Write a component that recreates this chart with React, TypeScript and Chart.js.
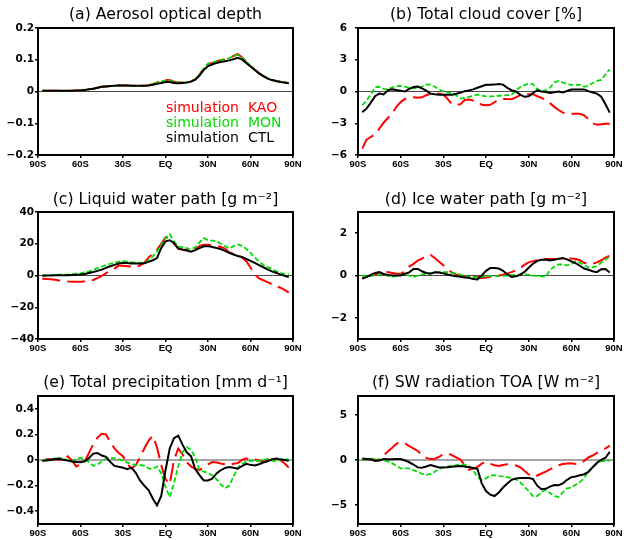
import { useEffect, useRef } from 'react';
import { Chart, registerables } from 'chart.js';

Chart.register(...registerables);

// Zonal-mean latitudes (degrees, south negative)
const LATITUDES = [
  -87, -84, -81, -78, -75, -72, -69, -66, -63, -60,
  -57, -54, -51, -48, -45, -42, -39, -36, -33, -30,
  -27, -24, -21, -18, -15, -12, -9, -6, -3, 0,
  3, 6, 9, 12, 15, 18, 21, 24, 27, 30,
  33, 36, 39, 42, 45, 48, 51, 54, 57, 60,
  63, 66, 69, 72, 75, 78, 81, 84, 87,
];

const X_TICK_VALUES = [-90, -60, -30, 0, 30, 60, 90];
const X_TICK_LABELS = ['90S', '60S', '30S', 'EQ', '30N', '60N', '90N'];

const SERIES_NAMES = ['simulation  KAO', 'simulation  MON', 'simulation  CTL'];
const SERIES_COLORS = ['#ff0000', '#00dd00', '#000000'];

// (a) Aerosol optical depth
const AOD_KAO = [
  0.002, 0.002, 0.002, 0.002, 0.002, 0.002, 0.002, 0.002, 0.003, 0.003,
  0.005, 0.007, 0.009, 0.012, 0.015, 0.016, 0.017, 0.018, 0.019, 0.019,
  0.019, 0.018, 0.018, 0.018, 0.018, 0.020, 0.023, 0.028, 0.033, 0.036,
  0.036, 0.031, 0.028, 0.028, 0.029, 0.032, 0.038, 0.053, 0.073, 0.087,
  0.090, 0.095, 0.099, 0.101, 0.105, 0.112, 0.118, 0.108, 0.094, 0.081,
  0.069, 0.058, 0.049, 0.042, 0.037, 0.033, 0.031, 0.028, 0.026,
];
const AOD_MON = [
  0.002, 0.002, 0.002, 0.002, 0.002, 0.002, 0.002, 0.002, 0.003, 0.003,
  0.005, 0.007, 0.009, 0.012, 0.015, 0.016, 0.017, 0.018, 0.019, 0.019,
  0.019, 0.018, 0.018, 0.018, 0.018, 0.020, 0.023, 0.028, 0.032, 0.035,
  0.035, 0.031, 0.028, 0.028, 0.029, 0.032, 0.038, 0.053, 0.073, 0.088,
  0.090, 0.095, 0.099, 0.101, 0.105, 0.111, 0.115, 0.107, 0.094, 0.081,
  0.069, 0.058, 0.049, 0.042, 0.037, 0.033, 0.031, 0.028, 0.026,
];
const AOD_CTL = [
  0.002, 0.002, 0.002, 0.002, 0.002, 0.002, 0.002, 0.002, 0.003, 0.003,
  0.005, 0.007, 0.009, 0.012, 0.015, 0.016, 0.017, 0.018, 0.019, 0.019,
  0.019, 0.018, 0.018, 0.018, 0.018, 0.019, 0.021, 0.024, 0.027, 0.030,
  0.030, 0.027, 0.026, 0.027, 0.028, 0.031, 0.037, 0.050, 0.068, 0.080,
  0.085, 0.090, 0.093, 0.095, 0.098, 0.102, 0.106, 0.101, 0.090, 0.079,
  0.068, 0.057, 0.048, 0.041, 0.036, 0.033, 0.030, 0.028, 0.026,
];

// (b) Total cloud cover [%]
const CLD_KAO = [
  -5.4, -4.55, -4.3, -4.05, -3.5, -2.95, -2.5, -2.1, -1.45, -1.0,
  -0.7, -0.57, -0.55, -0.6, -0.55, -0.35, -0.2, -0.15, -0.2, -0.3,
  -0.7, -1.2, -1.25, -1.2, -0.8, -0.75, -0.85, -0.95, -1.25, -1.3,
  -1.25, -1.0, -0.8, -0.7, -0.72, -0.73, -0.55, -0.35, -0.25, -0.25,
  -0.25, -0.45, -0.6, -0.8, -1.1, -1.45, -1.75, -2.0, -2.08, -2.1,
  -2.1, -2.1, -2.25, -2.6, -3.0, -3.15, -3.1, -3.05, -3.05,
];
const CLD_MON = [
  -1.3, -0.85, -0.3, 0.4, 0.45, 0.25, 0.2, 0.4, 0.5, 0.52,
  0.45, 0.35, 0.3, 0.35, 0.45, 0.68, 0.65, 0.45, 0.2, 0.0,
  -0.08, -0.2, -0.35, -0.65, -0.62, -0.5, -0.4, -0.3, -0.38, -0.47,
  -0.47, -0.45, -0.4, -0.38, -0.35, -0.3, 0.1, 0.4, 0.6, 0.75,
  0.7, 0.25, 0.0, 0.1, 0.35, 0.85, 1.0, 0.85, 0.7, 0.63,
  0.63, 0.63, 0.45, 0.55, 0.8, 1.0, 1.1, 1.6, 2.1,
];
const CLD_CTL = [
  -1.95, -1.62, -1.05, -0.45, -0.2, -0.28, 0.12, 0.2, 0.15, 0.08,
  0.0, 0.25, 0.42, 0.47, 0.3, 0.08, -0.2, -0.27, -0.3, -0.3,
  -0.3, -0.3, -0.22, -0.12, 0.03, 0.1, 0.2, 0.35, 0.5, 0.63,
  0.63, 0.65, 0.7, 0.65, 0.35, 0.12, 0.0, -0.3, -0.5, -0.45,
  -0.15, 0.12, 0.0, -0.05, -0.15, -0.08, 0.0, -0.1, 0.05, 0.18,
  0.2, 0.2, 0.2, 0.03, -0.1, -0.2, -0.5, -1.2, -2.0,
];

// (c) Liquid water path [g m-2]
const LWP_KAO = [
  -2.1, -2.2, -2.4, -2.7, -3.1, -3.4, -3.7, -3.9, -4.0, -3.9,
  -3.7, -3.5, -2.8, -1.6, -0.3, 1.5, 2.8, 4.3, 6.3, 6.2,
  5.9, 5.6, 5.4, 6.3, 8.0, 11.3, 13.8, 16.2, 20.0, 24.0,
  23.3, 20.0, 17.0, 16.4, 16.0, 15.5, 16.5, 18.7, 19.3, 19.4,
  19.0, 18.7, 18.0, 17.0, 14.5, 13.6, 13.2, 11.4, 9.0, 5.0,
  0.6, -1.9, -3.0, -4.2, -5.4, -6.5, -7.7, -9.1, -10.8,
];
const LWP_MON = [
  0.0, 0.1, 0.2, 0.3, 0.5, 0.55, 0.6, 0.8, 1.1, 1.4,
  2.0, 2.6, 3.5, 4.6, 5.6, 6.6, 7.4, 8.1, 8.7, 9.0,
  8.8, 8.4, 8.2, 8.0, 8.2, 9.5, 12.0, 15.2, 19.0, 23.5,
  26.0, 21.5, 18.2, 17.9, 17.2, 16.5, 17.8, 20.9, 23.5, 22.2,
  22.0, 21.6, 20.0, 18.6, 17.0, 18.5, 19.6, 18.7, 16.8, 14.2,
  11.3, 8.8, 6.8, 5.4, 4.1, 2.8, 1.7, 0.9, 0.8,
];
const LWP_CTL = [
  -0.1, 0.0, 0.05, 0.1, 0.12, 0.15, 0.2, 0.35, 0.5, 0.7,
  1.0, 1.6, 2.2, 2.9, 3.7, 4.8, 5.8, 6.7, 7.6, 8.0,
  7.8, 7.6, 7.5, 7.5, 7.7, 8.6, 9.6, 11.0, 17.4, 21.5,
  22.2, 20.5, 17.0, 16.3, 15.7, 15.0, 16.0, 17.2, 18.4, 18.5,
  17.9, 17.3, 16.6, 15.5, 14.3, 13.2, 12.3, 11.7, 10.5, 9.2,
  7.9, 6.5, 5.2, 3.8, 2.6, 1.7, 0.7, -0.2, -1.0,
];

// (d) Ice water path [g m-2]
const IWP_KAO = [
  -0.13, -0.05, 0.0, 0.05, 0.1, 0.13, 0.16, 0.12, 0.08, 0.08,
  0.2, 0.42, 0.55, 0.7, 0.8, 0.94, 0.97, 0.83, 0.65, 0.48,
  0.3, 0.14, 0.05, -0.02, -0.04, -0.06, -0.04, -0.06, -0.12, -0.1,
  -0.06, -0.03, 0.0, 0.04, 0.1, 0.16, 0.25, 0.35, 0.5, 0.62,
  0.68, 0.72, 0.75, 0.78, 0.78, 0.78, 0.78, 0.8, 0.8, 0.8,
  0.78, 0.72, 0.6, 0.55, 0.55, 0.62, 0.72, 0.85, 0.94,
];
const IWP_MON = [
  0.0, -0.02, -0.02, 0.01, 0.03, 0.04, -0.02, -0.05, -0.03, 0.05,
  0.03, 0.0, -0.08, 0.0, 0.05, 0.08, 0.11, 0.14, 0.16, 0.16,
  0.16, 0.12, 0.08, 0.04, -0.02, -0.05, -0.08, -0.08, -0.06, -0.03,
  -0.03, -0.03, -0.03, -0.02, 0.0, 0.02, 0.03, 0.05, 0.05, 0.04,
  0.0, -0.03, -0.04, -0.06, 0.25, 0.42, 0.52, 0.52, 0.48, 0.55,
  0.67, 0.6, 0.5, 0.38, 0.38, 0.45, 0.6, 0.75, 0.9,
];
const IWP_CTL = [
  -0.15, -0.08, 0.03, 0.12, 0.16, 0.07, 0.03, 0.0, 0.0, 0.0,
  0.08, 0.15, 0.31, 0.31, 0.2, 0.12, 0.08, 0.15, 0.14, 0.1,
  0.05, 0.0, -0.04, -0.06, -0.1, -0.11, -0.17, -0.19, 0.0, 0.22,
  0.35, 0.35, 0.33, 0.22, 0.05, -0.07, -0.04, 0.03, 0.17, 0.37,
  0.55, 0.69, 0.74, 0.75, 0.71, 0.74, 0.79, 0.83, 0.76, 0.67,
  0.58, 0.46, 0.33, 0.27, 0.2, 0.16, 0.3, 0.31, 0.14,
];

// (e) Total precipitation [mm d-1]
const PRC_KAO = [
  -0.004, 0.005, 0.008, 0.003, 0.0, 0.01, 0.03, -0.005, -0.05, -0.035,
  -0.01, 0.055, 0.125, 0.175, 0.205, 0.2, 0.14, 0.09, 0.055, 0.03,
  -0.03, -0.066, -0.04, 0.02, 0.09, 0.15, 0.19, 0.1, -0.04, -0.15,
  -0.19, 0.0, 0.09, 0.045, -0.018, -0.05, -0.07, -0.079, -0.055, -0.035,
  -0.015, -0.02, -0.027, -0.033, -0.039, -0.03, -0.024, 0.0, 0.013, 0.0,
  0.005, -0.003, -0.013, -0.005, 0.005, 0.018, -0.002, -0.025, -0.06,
];
const PRC_MON = [
  0.0, 0.002, 0.006, 0.012, 0.018, 0.01, 0.0, -0.012, 0.01, 0.018,
  0.005, -0.015, -0.045, -0.035, -0.012, 0.01, 0.018, 0.013, 0.005, -0.005,
  -0.02, -0.03, -0.04, -0.039, -0.045, -0.065, -0.07, -0.05, -0.105, -0.21,
  -0.29, -0.18, -0.05, 0.06, 0.1, 0.08, 0.02, -0.079, -0.09, -0.1,
  -0.12, -0.15, -0.19, -0.22, -0.2, -0.13, -0.06, -0.03, -0.013, -0.005,
  -0.008, -0.008, 0.0, 0.008, -0.005, -0.01, 0.0, 0.008, 0.005,
];
const PRC_CTL = [
  -0.008, -0.003, 0.0, 0.01, 0.008, 0.002, -0.005, -0.012, -0.015, -0.018,
  -0.01, 0.015, 0.05, 0.055, 0.035, 0.025, -0.015, -0.046, -0.053, -0.06,
  -0.072, -0.06, -0.1, -0.16, -0.2, -0.235, -0.3, -0.355, -0.28, -0.08,
  0.09, 0.17, 0.19, 0.12, 0.06, 0.03, -0.07, -0.118, -0.16, -0.16,
  -0.145, -0.105, -0.08, -0.062, -0.055, -0.06, -0.068, -0.047, -0.03, -0.038,
  -0.042, -0.033, -0.02, -0.01, 0.005, 0.012, 0.005, 0.0, -0.007,
];

// (f) SW radiation TOA [W m-2]
const SWR_KAO = [
  0.0, 0.05, 0.06, 0.04, 0.0, 0.5, 0.95, 1.35, 1.8, 2.0,
  1.85, 1.55, 1.3, 1.0, 0.55, 0.24, 0.1, 0.15, 0.35, 0.65,
  0.72, 0.55, 0.3, 0.05, -0.55, -1.1, -0.95, -0.76, -0.4, -0.2,
  -0.42, -0.58, -0.66, -0.55, -0.48, -0.48, -0.6, -0.8, -1.2, -1.6,
  -1.88, -1.72, -1.5, -1.28, -1.03, -0.8, -0.58, -0.44, -0.38, -0.37,
  -0.44, -0.42, -0.1, 0.28, 0.5, 0.78, 1.05, 1.28, 1.6,
];
const SWR_MON = [
  0.0, 0.06, 0.14, 0.12, 0.07, 0.0, -0.17, -0.35, -0.65, -0.92,
  -0.92, -0.92, -1.15, -1.3, -1.55, -1.65, -1.55, -1.3, -1.0, -0.78,
  -0.72, -0.66, -0.58, -0.48, -0.52, -0.6, -1.15, -1.9, -2.2, -2.05,
  -1.7, -1.7, -1.78, -1.82, -1.9, -2.0, -2.15, -2.45, -2.95, -3.45,
  -4.0, -4.0, -3.55, -3.3, -3.65, -4.0, -4.1, -3.6, -3.15, -3.05,
  -2.75, -2.45, -2.0, -1.25, -0.8, -0.4, -0.1, -0.11, -0.08,
];
const SWR_CTL = [
  0.18, 0.12, 0.07, -0.1, -0.05, 0.1, 0.09, 0.07, 0.1, 0.11,
  -0.05, -0.25, -0.5, -0.82, -0.85, -0.72, -0.56, -0.7, -0.82, -0.84,
  -0.8, -0.74, -0.7, -0.66, -0.72, -0.8, -0.88, -1.0, -2.6, -3.45,
  -3.85, -4.0, -3.6, -3.05, -2.6, -2.2, -2.05, -2.0, -2.0, -2.0,
  -2.1, -2.85, -3.25, -3.2, -2.95, -2.78, -2.8, -2.6, -2.2, -1.9,
  -1.83, -1.7, -1.58, -1.32, -0.8, -0.3, 0.02, 0.25, 0.9,
];

const PANEL_TITLES = [
  '(a) Aerosol optical depth',
  '(b) Total cloud cover [%]',
  '(c) Liquid water path [g m⁻²]',
  '(d) Ice water path [g m⁻²]',
  '(e) Total precipitation [mm d⁻¹]',
  '(f) SW radiation TOA [W m⁻²]',
];

const Y_TICKS_AOD = [-0.2, -0.1, 0, 0.1, 0.2];
const Y_TICKS_CLD = [-6, -3, 0, 3, 6];
const Y_TICKS_LWP = [-40, -20, 0, 20, 40];
const Y_TICKS_IWP = [-2, 0, 2];
const Y_TICKS_PRC = [-0.4, -0.2, 0, 0.2, 0.4];
const Y_TICKS_SWR = [-5, 0, 5];

const Y_LIMITS = [0.2, 6, 40, 3, 0.5, 7.1];

const PANEL_DATA = [
  { series: [AOD_KAO, AOD_MON, AOD_CTL], yTicks: Y_TICKS_AOD },
  { series: [CLD_KAO, CLD_MON, CLD_CTL], yTicks: Y_TICKS_CLD },
  { series: [LWP_KAO, LWP_MON, LWP_CTL], yTicks: Y_TICKS_LWP },
  { series: [IWP_KAO, IWP_MON, IWP_CTL], yTicks: Y_TICKS_IWP },
  { series: [PRC_KAO, PRC_MON, PRC_CTL], yTicks: Y_TICKS_PRC },
  { series: [SWR_KAO, SWR_MON, SWR_CTL], yTicks: Y_TICKS_SWR },
];

// Layout of the 3 x 2 grid of panels
const PANEL_W = 312;
const PANEL_H = 180;
const COL_LAYOUT = [
  { axisWidth: 38, padRight: 19, labelPad: 1 },
  { axisWidth: 46, padRight: 10, labelPad: 8 },
];
const ROW_LAYOUT = [
  { padTop: 28, axisHeight: 25, titleY: 15 },
  { padTop: 32, axisHeight: 21, titleY: 20 },
  { padTop: 36, axisHeight: 16, titleY: 23 },
];

const TITLE_FONT = '15.7px "DejaVu Sans"';
const LEGEND_FONT = '14px "DejaVu Sans"';

const LINE_STYLES = [
  { dash: [18, 7], width: 2, order: 2 },
  { dash: [5, 2.5], width: 1.8, order: 1 },
  { dash: [], width: 2, order: 0 },
];

const formatY = (v: number) => (v === 0 ? '0' : String(v).replace('-', '\u2212'));

function Panel({ index }: { index: number }) {
  const canvasRef = useRef<HTMLCanvasElement | null>(null);
  const col = index % 2;
  const row = Math.floor(index / 2);

  useEffect(() => {
    const canvas = canvasRef.current;
    if (!canvas) return;
    const { series, yTicks } = PANEL_DATA[index];
    const limit = Y_LIMITS[index];
    const cl = COL_LAYOUT[col];
    const rl = ROW_LAYOUT[row];
    const title = PANEL_TITLES[index];
    const showLegend = index === 0;

    const decor = {
      id: 'panelDecor',
      beforeDatasetsDraw(chart: any) {
        const { ctx, chartArea, scales } = chart;
        const y0 = scales.y.getPixelForValue(0);
        ctx.save();
        ctx.strokeStyle = '#4a4a4a';
        ctx.lineWidth = 1;
        ctx.beginPath();
        ctx.moveTo(chartArea.left, y0);
        ctx.lineTo(chartArea.right, y0);
        ctx.stroke();
        ctx.restore();
      },
      afterDraw(chart: any) {
        const { ctx, chartArea } = chart;
        ctx.save();
        ctx.strokeStyle = '#000';
        ctx.lineWidth = 2;
        ctx.strokeRect(
          chartArea.left,
          chartArea.top,
          chartArea.right - chartArea.left,
          chartArea.bottom - chartArea.top,
        );
        ctx.fillStyle = '#000';
        ctx.font = TITLE_FONT;
        ctx.textAlign = 'center';
        ctx.textBaseline = 'middle';
        ctx.fillText(title, (chartArea.left + chartArea.right) / 2, rl.titleY);
        if (showLegend) {
          ctx.font = LEGEND_FONT;
          ctx.textAlign = 'left';
          SERIES_NAMES.forEach((name, i) => {
            ctx.fillStyle = SERIES_COLORS[i];
            ctx.fillText(name, 166, 108 + i * 15);
          });
        }
        ctx.restore();
      },
    };

    const chart = new Chart(canvas, {
      type: 'line',
      data: {
        datasets: series.map((vals, i) => ({
          label: SERIES_NAMES[i],
          data: LATITUDES.map((lat, k) => ({ x: lat, y: vals[k] })),
          borderColor: SERIES_COLORS[i],
          borderWidth: LINE_STYLES[i].width,
          borderDash: LINE_STYLES[i].dash,
          pointRadius: 0,
          fill: false,
          tension: 0,
          order: LINE_STYLES[i].order,
        })),
      },
      options: {
        animation: false,
        responsive: false,
        events: [],
        layout: { padding: { left: 0, top: rl.padTop, right: cl.padRight, bottom: 0 } },
        plugins: {
          legend: { display: false },
          tooltip: { enabled: false },
          title: { display: false },
        },
        scales: {
          x: {
            type: 'linear',
            min: -90,
            max: 90,
            border: { display: false },
            grid: { display: true, drawOnChartArea: false, drawTicks: true, tickLength: 3, color: '#000', lineWidth: 1.5 },
            afterBuildTicks: (s: any) => {
              s.ticks = X_TICK_VALUES.map((v) => ({ value: v }));
            },
            afterFit: (s: any) => {
              s.height = rl.axisHeight;
              s.paddingLeft = 0;
              s.paddingRight = 0;
            },
            ticks: {
              autoSkip: false,
              maxRotation: 0,
              minRotation: 0,
              padding: 1,
              color: '#000',
              font: { family: 'Liberation Sans', weight: 'bold', size: 9.5 },
              callback: (v: any) => X_TICK_LABELS[X_TICK_VALUES.indexOf(Number(v))],
            },
          },
          y: {
            type: 'linear',
            min: -limit,
            max: limit,
            border: { display: false },
            grid: { display: true, drawOnChartArea: false, drawTicks: true, tickLength: 3, color: '#000', lineWidth: 1.5 },
            afterBuildTicks: (s: any) => {
              s.ticks = yTicks.map((v) => ({ value: v }));
            },
            afterFit: (s: any) => {
              s.width = cl.axisWidth;
              s.paddingTop = 0;
              s.paddingBottom = 0;
            },
            ticks: {
              autoSkip: false,
              padding: cl.labelPad,
              color: '#000',
              font: { family: 'DejaVu Sans', weight: 'bold', size: 10.5 },
              callback: (v: any) => formatY(Number(v)),
            },
          },
        },
      },
      plugins: [decor],
    } as any);

    return () => chart.destroy();
  }, [index, col, row]);

  return (
    <canvas
      ref={canvasRef}
      width={PANEL_W}
      height={PANEL_H}
      style={{
        position: 'absolute',
        left: col * PANEL_W,
        top: row * PANEL_H,
        width: PANEL_W,
        height: PANEL_H,
      }}
    />
  );
}

export default function App() {
  return (
    <div
      style={{
        position: 'absolute',
        left: 0,
        top: 0,
        width: PANEL_W * 2,
        height: PANEL_H * 3,
        background: '#fff',
      }}
    >
      {PANEL_TITLES.map((t, i) => (
        <Panel key={t} index={i} />
      ))}
    </div>
  );
}
